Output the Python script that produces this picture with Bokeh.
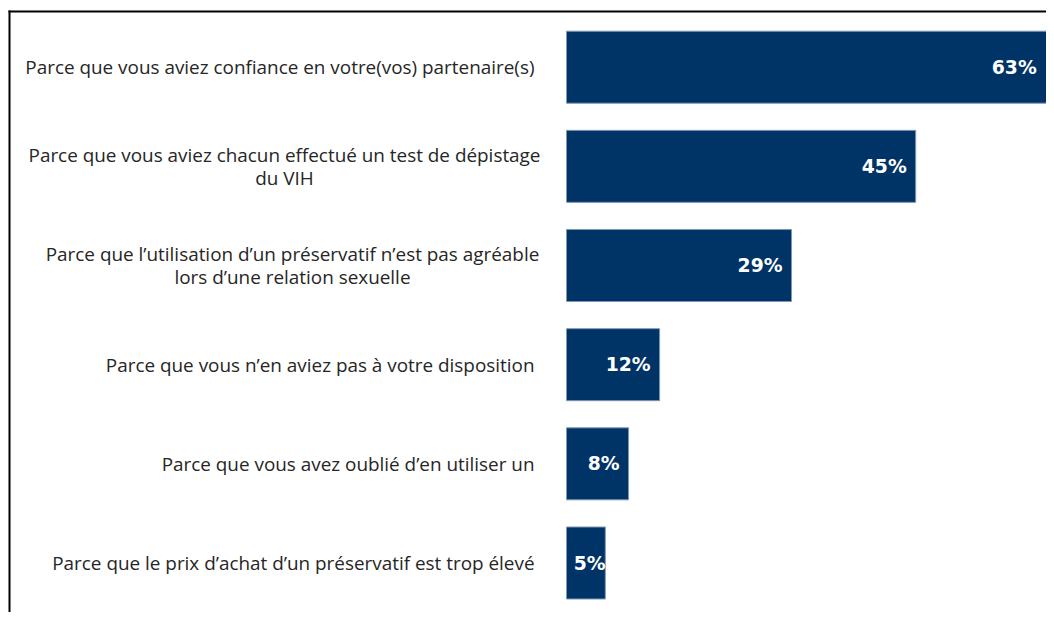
from bokeh.plotting import figure
from bokeh.models import ColumnDataSource, Range1d
from bokeh.core.properties import value
from bokeh.embed import file_html
from bokeh.resources import INLINE
import numpy as np

categories = [
    "Parce que vous aviez confiance en votre(vos) partenaire(s)",
    "Parce que vous aviez chacun effectué un test de dépistage\ndu VIH",
    "Parce que l\u2019utilisation d\u2019un préservatif n\u2019est pas agréable\nlors d\u2019une relation sexuelle",
    "Parce que vous n\u2019en aviez pas à votre disposition",
    "Parce que vous avez oublié d\u2019en utiliser un",
    "Parce que le prix d\u2019achat d\u2019un préservatif est trop élevé",
]
values = [63, 45, 29, 12, 8, 5]
value_labels = ["63%", "45%", "29%", "12%", "8%", "5%"]

W, H = 1046, 612
px_per_pct = 7.76
bar_start_px = 566
row_px = 99.16
first_row_px = 66.7

x_start = -bar_start_px / px_per_pct
x_end = (W - bar_start_px) / px_per_pct
y_top = -first_row_px / row_px
y_bot = (H - first_row_px) / row_px


def px_x(px):
    return x_start + px / px_per_pct


def px_y(px):
    return y_top + px / row_px


idx = list(range(len(values)))
vals = np.array(values, dtype=float)
label_x = np.clip(vals, 6.2, x_end - 0.1)
src = ColumnDataSource(dict(y=idx, v=values, lab=value_labels, lx=label_x))

p = figure(width=W, height=H, output_backend="svg", toolbar_location=None,
           x_range=Range1d(x_start, x_end), y_range=Range1d(y_bot, y_top),
           min_border=0, min_border_left=0, min_border_right=0,
           min_border_top=0, min_border_bottom=0)
p.axis.visible = False
p.grid.visible = False
p.outline_line_color = None
p.background_fill_color = "white"
p.border_fill_color = "white"

# frame lines (left and top)
p.segment(x0=[px_x(9), px_x(8)], y0=[px_y(10), px_y(11)],
          x1=[px_x(9), px_x(W + 5)], y1=[px_y(H + 5), px_y(11)],
          line_color="black", line_width=2)

p.hbar(y="y", left=0, right="v", height=0.726, source=src,
       fill_color="#003366", line_color="#7f97b3", line_width=1)

p.text(x="lx", y="y", text="lab", source=src, x_offset=-9,
       text_align="right", text_baseline="middle", text_color="white",
       text_font=value("DejaVu Sans"), text_font_style="bold",
       text_font_size="18.8px")

single = [i for i, c in enumerate(categories) if "\n" not in c]
multi = [i for i, c in enumerate(categories) if "\n" in c]
s1 = ColumnDataSource(dict(y=[idx[i] for i in single], t=[categories[i] for i in single]))
p.text(x=0, y="y", text="t", source=s1, x_offset=-32,
       text_align="right", text_baseline="middle", text_color="#262626",
       text_font=value("Open Sans"), text_font_size="18.9px")

multi_offsets = {1: -282, 2: -274}
for i in multi:
    s2 = ColumnDataSource(dict(y=[idx[i]], t=[categories[i]]))
    p.text(x=0, y="y", text="t", source=s2, x_offset=multi_offsets[i],
           text_align="center", text_baseline="middle", text_color="#262626",
           text_font=value("Open Sans"), text_font_size="18.9px",
           text_line_height=0.9)

open("out.html", "w").write(file_html(p, INLINE))
